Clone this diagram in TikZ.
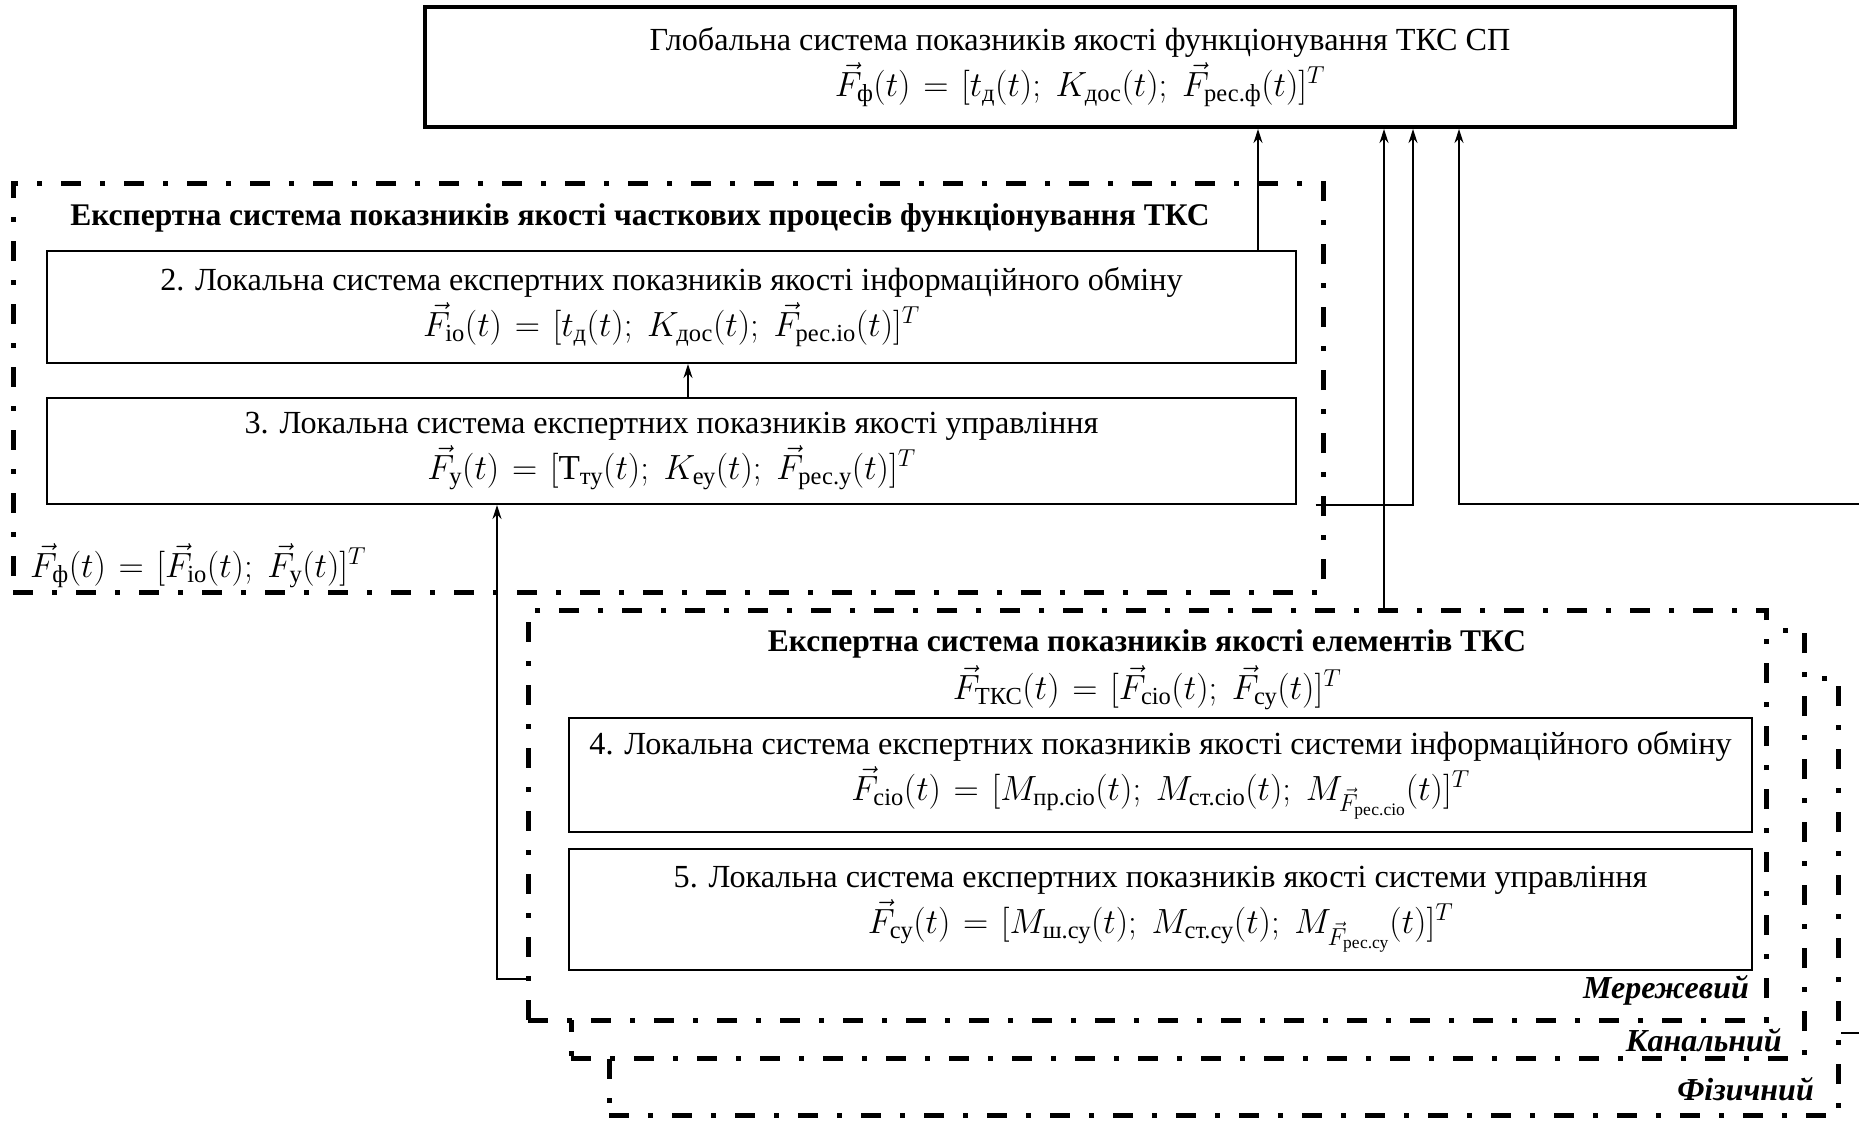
\RequirePackage{fix-cm}
\documentclass[tikz,border=0pt]{standalone}
\usepackage{amsmath}
\usepackage{fontspec}
\setmainfont{Liberation Serif}
\usetikzlibrary{arrows.meta,calc}

% formula line, set a little larger than the text
\newcommand\fml[1]{{\fontsize{35}{46}\selectfont$\thickmuskip=6.5mu #1$}}

\begin{document}
\begin{tikzpicture}[x=1pt,y=-1pt,
  every node/.style={font=\fontsize{32.2}{46}\selectfont, inner sep=0pt},
  box/.style={draw, line width=2pt, fill=white, align=center},
  topbox/.style={box, line width=4pt},
  layer/.style={draw, line width=5pt, fill=white,
                dash pattern=on 20pt off 19pt on 5pt off 19pt},
  heading/.style={font=\fontsize{31.5}{36}\selectfont\bfseries},
  levelname/.style={anchor=east, font=\fontsize{32}{36}\selectfont\bfseries\itshape},
  conn/.style={line width=1.3pt},
  arr/.style={conn, -{Stealth[length=14pt,width=9pt]}},
]
\useasboundingbox (0,0) rectangle (1859,1120);

% global quality system
\node[topbox, minimum width=1310pt, minimum height=120pt] (top) at (1080,67)
  {Глобальна система показників якості функціонування ТКС СП\\
   \fml{\vec F_{\text{ф}}(t) = [t_{\text{д}}(t);\ K_{\text{дос}}(t);\ \vec F_{\text{рес.ф}}(t)]^T}};

% expert system of partial processes
\node[layer, minimum width=1310pt, minimum height=409pt] (es1) at (668,387.5) {};
\node[heading] (es1title) at (640,218)
  {Експертна система показників якості часткових процесів функціонування ТКС};
\node[box, minimum width=1249pt, minimum height=112pt] (b2) at (671.5,307)
  {2. Локальна система експертних показників якості інформаційного обміну\\
   \fml{\vec F_{\text{іо}}(t) = [t_{\text{д}}(t);\ K_{\text{дос}}(t);\ \vec F_{\text{рес.іо}}(t)]^T}};
\node[box, minimum width=1249pt, minimum height=106pt] (b3) at (671.5,451)
  {3. Локальна система експертних показників якості управління\\
   \fml{\vec F_{\text{у}}(t) = [\text{Т}_{\text{ту}}(t);\ K_{\text{еу}}(t);\ \vec F_{\text{рес.у}}(t)]^T}};
\node[anchor=west] (es1f) at (30,566)
  {\fml{\vec F_{\text{ф}}(t) = [\vec F_{\text{іо}}(t);\ \vec F_{\text{у}}(t)]^T}};

% stacked element levels
\node[layer, minimum width=1229pt, minimum height=437pt] (fiz) at (1223.5,896.5) {};
\node[layer, minimum width=1233pt, minimum height=428pt] (kan) at (1187.5,844) {};
\node[layer, minimum width=1238pt, minimum height=410pt] (mer) at (1147,815) {};
\node[heading] (mertitle) at (1147,644) {Експертна система показників якості елементів ТКС};
\node (merf) at (1147,688)
  {\fml{\vec F_{\text{ТКС}}(t) = [\vec F_{\text{сіо}}(t);\ \vec F_{\text{су}}(t)]^T}};
\node[box, minimum width=1183pt, minimum height=114pt] (b4) at (1160.5,775)
  {4. Локальна система експертних показників якості системи інформаційного обміну\\
   \fml{\vec F_{\text{сіо}}(t) = [M_{\text{пр.сіо}}(t);\ M_{\text{ст.сіо}}(t);\ M_{\vec F_{\text{рес.сіо}}}(t)]^T}};
\node[box, minimum width=1183pt, minimum height=121pt] (b5) at (1160.5,909.5)
  {5. Локальна система експертних показників якості системи управління\\
   \fml{\vec F_{\text{су}}(t) = [M_{\text{ш.су}}(t);\ M_{\text{ст.су}}(t);\ M_{\vec F_{\text{рес.су}}}(t)]^T}};
\node[levelname] (lmer) at (1749,990) {Мережевий};
\node[levelname] (lkan) at (1782,1040) {Канальний};
\node[levelname] (lfiz) at (1814,1089) {Фізичний};

% connector columns and rows
\coordinate (xa) at (1258,0);
\coordinate (xb) at (688,0);
\coordinate (xc) at (497,0);
\coordinate (xd) at (1384,0);
\coordinate (xe) at (1413,0);
\coordinate (xf) at (1459,0);
\coordinate (ym) at (0,979);
\coordinate (feedA) at (1859,504);
\coordinate (feedB) at (1859,1033);

\draw[arr] (b2.north -| xa) -- (top.south -| xa);
\draw[arr] (b3.north -| xb) -- (b2.south -| xb);
\draw[arr] (mer.west |- ym) -| (b3.south -| xc);
\draw[arr] (mer.north -| xd) -- (top.south -| xd);
\draw[arr] ($(es1.east |- b3.south)+(-10,0)$) -| (top.south -| xe);
\draw[arr] (feedA) -| (top.south -| xf);
\draw[conn] (feedB) -- (fiz.east |- feedB);
\end{tikzpicture}
\end{document}
